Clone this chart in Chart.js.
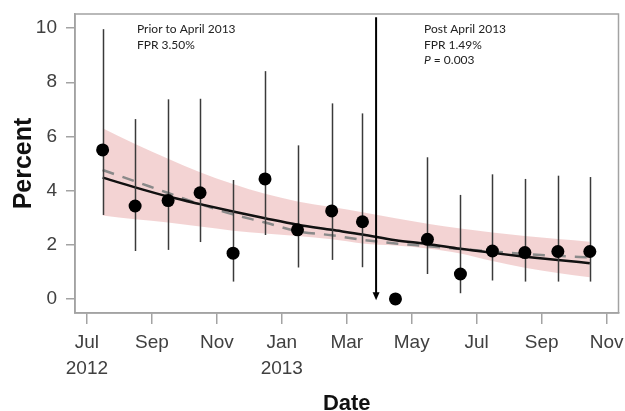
<!DOCTYPE html>
<html><head><meta charset="utf-8">
<script src="https://cdn.jsdelivr.net/npm/chart.js@4.4.1/dist/chart.umd.min.js"></script>
<style>html,body{margin:0;padding:0;background:#fff;}</style>
</head><body>
<canvas id="c" width="625" height="411"></canvas>
<script>
// ---- data ----
const monthDates = ["2012-07-16","2012-08-16","2012-09-16","2012-10-16","2012-11-16","2012-12-16",
  "2013-01-16","2013-02-16","2013-03-16","2013-04-16","2013-05-16","2013-06-16",
  "2013-07-16","2013-08-16","2013-09-16","2013-10-16"];
const percentValues = [5.50, 3.43, 3.63, 3.92, 1.69, 4.43, 2.55, 3.25, 2.85, 0.00, 2.20, 0.92, 1.77, 1.71, 1.75, 1.75];
const ciUpper = [9.96, 6.64, 7.37, 7.39, 4.39, 8.41, 5.67, 7.22, 6.85, null, 5.23, 3.84, 4.60, 4.43, 4.55, 4.50];
const ciLower = [3.10, 1.77, 1.81, 2.10, 0.64, 2.36, 1.16, 1.44, 1.17, null, 0.92, 0.21, 0.68, 0.64, 0.64, 0.64];
const fitSolid = [4.48, 4.12, 3.78, 3.50, 3.23, 2.98, 2.74, 2.55, 2.38, 2.17, 2.03, 1.85, 1.70, 1.56, 1.44, 1.32];
const fitDashed = [4.76, 4.34, 3.91, 3.50, 3.12, 2.82, 2.50, 2.35, 2.18, 2.05, 1.95, 1.84, 1.75, 1.66, 1.59, 1.53];
const bandUpper = [6.30, 5.72, 5.18, 4.68, 4.24, 3.88, 3.60, 3.39, 3.20, 2.98, 2.78, 2.60, 2.45, 2.32, 2.21, 2.11];
const bandLower = [3.08, 2.94, 2.82, 2.67, 2.52, 2.42, 2.32, 2.20, 2.05, 1.97, 1.86, 1.68, 1.40, 1.15, 0.96, 0.80];
const xTickDates = ["2012-07-01","2012-09-01","2012-11-01","2013-01-01","2013-03-01","2013-05-01","2013-07-01","2013-09-01","2013-11-01"];
const xTickLabels = [["Jul","2012"],"Sep","Nov",["Jan","2013"],"Mar","May","Jul","Sep","Nov"];
const yTickValues = [0, 2, 4, 6, 8, 10];
const interventionDate = "2013-03-29";
const arrowFrom = 10.4, arrowTo = -0.05;
const noteLeft = ["Prior to April 2013", "FPR 3.50%"];
const noteRight = ["Post April 2013", "FPR 1.49%"];
const noteP = "0.003";
const xRange = ["2012-06-20", "2013-11-12"];
const yRange = [-0.52, 10.52];

// ---- helpers ----
function monthPos(s){
  const [y,m,d] = s.split('-').map(Number);
  const dim = new Date(y, m, 0).getDate();
  return (y-2012)*12 + (m-7) + (d-1)/dim;
}
const xs = monthDates.map(monthPos);
const pts = arr => arr.map((v,i)=>({x: xs[i], y: v}));

const framePlugin = {
  id: 'frame',
  beforeDatasetsDraw(chart){
    const {ctx, chartArea:a} = chart;
    ctx.save();
    ctx.strokeStyle = '#a3a3a3'; ctx.lineWidth = 1.5;
    ctx.strokeRect(a.left, a.top, a.right - a.left, a.bottom - a.top);
    ctx.restore();
  },
  beforeDatasetDraw(chart, args){
    if (chart.data.datasets[args.index].id !== 'points') return;
    const {ctx, scales:{x, y}} = chart;
    ctx.save();
    ctx.strokeStyle = '#3a3a3a'; ctx.lineWidth = 1.5;
    for (let i = 0; i < xs.length; i++){
      if (ciUpper[i] == null) continue;
      const px = Math.round(x.getPixelForValue(xs[i])) + 0.5;
      ctx.beginPath();
      ctx.moveTo(px, y.getPixelForValue(ciUpper[i]));
      ctx.lineTo(px, y.getPixelForValue(ciLower[i]));
      ctx.stroke();
    }
    ctx.restore();
  },
  afterDatasetsDraw(chart){
    const {ctx, scales:{x, y}, chartArea:a} = chart;
    ctx.save();
    // arrow
    const ax = x.getPixelForValue(monthPos(interventionDate));
    const y1 = y.getPixelForValue(arrowFrom), y2 = y.getPixelForValue(arrowTo);
    ctx.strokeStyle = '#000'; ctx.fillStyle = '#000'; ctx.lineWidth = 2;
    ctx.beginPath(); ctx.moveTo(ax, y1); ctx.lineTo(ax, y2 - 7); ctx.stroke();
    ctx.beginPath(); ctx.moveTo(ax - 3.5, y2 - 8); ctx.lineTo(ax + 3.5, y2 - 8); ctx.lineTo(ax, y2); ctx.closePath(); ctx.fill();
    // notes
    ctx.fillStyle = '#222';
    ctx.font = '12px Lato';
    ctx.textBaseline = 'alphabetic'; ctx.textAlign = 'left';
    const lx = a.left + 62, rx = a.left + 349, b0 = a.top + 19, lh = 15.5;
    noteLeft.forEach((t,i)=>ctx.fillText(t, lx, b0 + i*lh));
    noteRight.forEach((t,i)=>ctx.fillText(t, rx, b0 + i*lh));
    ctx.font = 'italic 12px Lato';
    ctx.fillText('P', rx, b0 + 2*lh);
    const w = ctx.measureText('P').width;
    ctx.font = '12px Lato';
    ctx.fillText(' = ' + noteP, rx + w, b0 + 2*lh);
    ctx.restore();
  }
};

new Chart(document.getElementById('c'), {
  type: 'line',
  data: {
    datasets: [
      {id:'points', data: pts(percentValues), showLine: false, pointRadius: 6.5, pointBackgroundColor: '#000', pointBorderWidth: 0, order: 0},
      {data: pts(fitSolid), borderColor: '#111', borderWidth: 2.5, pointRadius: 0, cubicInterpolationMode: 'monotone', fill: false, order: 1},
      {data: pts(fitDashed), borderColor: '#8a8a8a', borderWidth: 2.5, borderDash: [12, 9], pointRadius: 0, cubicInterpolationMode: 'monotone', fill: false, order: 2},
      {data: pts(bandLower), borderWidth: 0, pointRadius: 0, cubicInterpolationMode: 'monotone', fill: false, order: 4},
      {data: pts(bandUpper), borderWidth: 0, pointRadius: 0, cubicInterpolationMode: 'monotone', fill: '-1', backgroundColor: 'rgba(232,168,168,0.5)', order: 3}
    ]
  },
  options: {
    responsive: false, animation: false, devicePixelRatio: 1,
    layout: {padding: {top: 14, right: 6, left: 0, bottom: 0}},
    plugins: {legend: {display: false}, tooltip: {enabled: false}},
    scales: {
      x: {
        type: 'linear', min: monthPos(xRange[0]), max: monthPos(xRange[1]),
        afterFit(s){ s.height = 98; s.paddingLeft = 0; s.paddingRight = 0; },
        afterBuildTicks(s){ s.ticks = xTickDates.map(d=>({value: monthPos(d)})); },
        ticks: {autoSkip: false, maxRotation: 0, padding: 5, color: '#404040',
          font: {family: 'Liberation Sans', size: 19, lineHeight: 1.4},
          callback(v, i){ return xTickLabels[i]; }},
        grid: {display: true, drawOnChartArea: false, drawTicks: true, tickLength: 11, color: '#a3a3a3', lineWidth: 1.5},
        border: {display: true, color: '#a3a3a3', width: 1.5},
        title: {display: true, text: 'Date', color: '#111', font: {family: 'Liberation Sans', size: 22, weight: 'bold', lineHeight: 1}, padding: {top: 0, bottom: -4}}
      },
      y: {
        min: yRange[0], max: yRange[1],
        afterFit(s){ s.width = 75; s.paddingTop = 0; s.paddingBottom = 0; },
        afterBuildTicks(s){ s.ticks = yTickValues.map(v=>({value: v})); },
        ticks: {padding: 9, color: '#404040', font: {family: 'Liberation Sans', size: 19}},
        grid: {display: true, drawOnChartArea: false, drawTicks: true, tickLength: 9, color: '#a3a3a3', lineWidth: 1.5},
        border: {display: true, color: '#a3a3a3', width: 1.5},
        title: {display: true, text: 'Percent', color: '#111', font: {family: 'Liberation Sans', size: 25, weight: 'bold', lineHeight: 1}, padding: {top: 12, bottom: 0}}
      }
    }
  },
  plugins: [framePlugin]
});
</script>
</body></html>
